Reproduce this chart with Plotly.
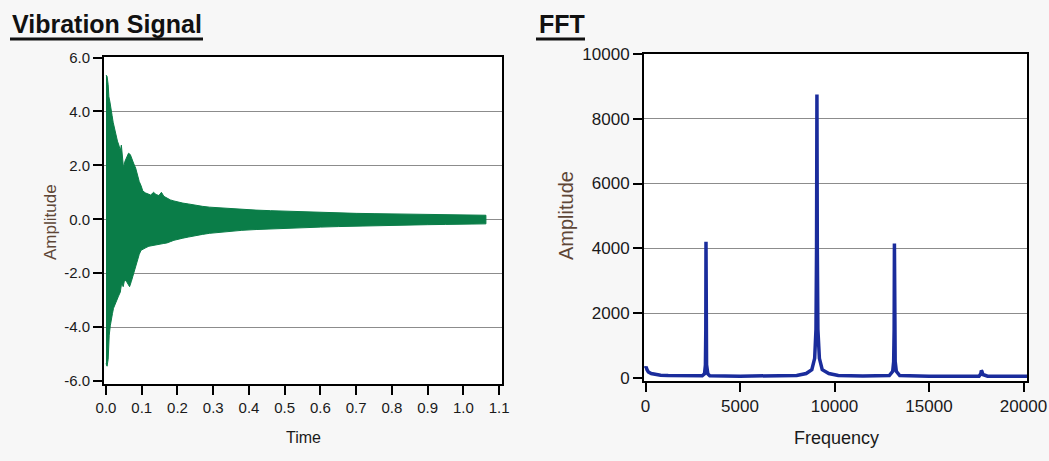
import plotly.graph_objects as go

# ---- vibration signal envelope (time in s, amplitude) ----
t_upper = [0.000, 0.003, 0.006, 0.008, 0.011, 0.014, 0.017, 0.020, 0.024, 0.028,
           0.032, 0.036, 0.040, 0.043, 0.046, 0.049, 0.053, 0.058, 0.063, 0.068,
           0.073, 0.078, 0.083, 0.088, 0.093, 0.098, 0.103, 0.110, 0.118, 0.125,
           0.133, 0.140, 0.148, 0.155, 0.162, 0.170, 0.180, 0.190, 0.200, 0.215,
           0.230, 0.250, 0.270, 0.290, 0.320, 0.350, 0.380, 0.420, 0.460, 0.500,
           0.550, 0.600, 0.650, 0.700, 0.750, 0.800, 0.850, 0.900, 0.950, 1.000,
           1.040, 1.063]
amp_upper = [5.35, 5.30, 5.00, 4.55, 4.35, 4.00, 3.85, 3.60, 3.35, 3.20,
             2.90, 2.75, 2.55, 2.75, 2.30, 1.90, 2.15, 2.30, 2.45, 2.40,
             2.20, 2.05, 1.90, 1.60, 1.40, 1.25, 1.05, 0.98, 0.95, 0.90,
             1.00, 0.92, 0.88, 1.00, 0.85, 0.78, 0.72, 0.68, 0.64, 0.60,
             0.57, 0.52, 0.48, 0.45, 0.42, 0.39, 0.37, 0.34, 0.32, 0.30,
             0.28, 0.26, 0.24, 0.22, 0.21, 0.20, 0.19, 0.18, 0.17, 0.16,
             0.15, 0.15]
t_lower = [0.000, 0.003, 0.006, 0.009, 0.012, 0.015, 0.018, 0.021, 0.025, 0.030,
           0.035, 0.040, 0.044, 0.048, 0.052, 0.057, 0.062, 0.066, 0.071, 0.077,
           0.083, 0.088, 0.093, 0.098, 0.105, 0.112, 0.120, 0.130, 0.140, 0.150,
           0.160, 0.170, 0.180, 0.190, 0.200, 0.215, 0.230, 0.250, 0.270, 0.290,
           0.320, 0.350, 0.380, 0.420, 0.460, 0.500, 0.550, 0.600, 0.650, 0.700,
           0.750, 0.800, 0.850, 0.900, 0.950, 1.000, 1.040, 1.063]
amp_lower = [-5.35, -5.45, -5.20, -4.30, -3.95, -3.70, -3.50, -3.30, -3.15, -3.00,
             -2.85, -2.70, -2.35, -2.50, -2.25, -2.30, -2.40, -2.50, -2.30, -2.05,
             -1.75, -1.55, -1.30, -1.15, -1.10, -1.05, -1.00, -0.98, -0.95, -0.92,
             -0.90, -0.88, -0.83, -0.78, -0.74, -0.70, -0.66, -0.60, -0.56, -0.52,
             -0.47, -0.44, -0.41, -0.38, -0.35, -0.33, -0.31, -0.29, -0.27, -0.25,
             -0.23, -0.22, -0.21, -0.20, -0.19, -0.18, -0.17, -0.17]

# ---- FFT magnitude spectrum (Hz, amplitude) ----
freq = [0, 30, 80, 150, 300, 500, 800, 1200, 2000, 3000,
        3120, 3170, 3190, 3200, 3210, 3230, 3300, 3400, 5000, 7000,
        8000, 8500, 8800, 8950, 9020, 9050, 9070, 9090, 9120, 9200,
        9350, 9700, 10200, 11500, 12900, 13080, 13130, 13155, 13170, 13185,
        13210, 13270, 13450, 15000, 17650, 17740, 17770, 17800, 17850, 17950,
        18000, 18100, 20185]
magnitude = [300, 340, 250, 180, 130, 100, 80, 70, 60, 60,
             120, 400, 1500, 4200, 1500, 400, 120, 60, 50, 55,
             70, 130, 250, 600, 1500, 4000, 8750, 4000, 1500, 600,
             250, 130, 70, 55, 70, 200, 500, 1500, 4150, 1500,
             500, 200, 70, 50, 50, 120, 220, 200, 100, 90,
             60, 50, 45]

# ---- tick labels ----
time_ticks = [0.0, 0.1, 0.2, 0.3, 0.4, 0.5, 0.6, 0.7, 0.8, 0.9, 1.0, 1.1]
time_labels = ["0.0", "0.1", "0.2", "0.3", "0.4", "0.5", "0.6", "0.7", "0.8", "0.9", "1.0", "1.1"]
sig_ticks = [-6, -4, -2, 0, 2, 4, 6]
sig_labels = ["-6.0", "-4.0", "-2.0", "0.0", "2.0", "4.0", "6.0"]
freq_ticks = [0, 5000, 10000, 15000, 20000]
freq_labels = ["0", "5000", "10000", "15000", "20000"]
mag_ticks = [0, 2000, 4000, 6000, 8000, 10000]
mag_labels = ["0", "2000", "4000", "6000", "8000", "10000"]

W, H = 1049, 461
GREEN = "#0a7d48"
BLUE = "#1a2c9c"
GRID = "#8c8c8c"
SANS = "Liberation Sans, Arial, sans-serif"


def px(x):
    return x / W


def py(y):
    return 1 - y / H


fig = go.Figure()
fig.add_trace(go.Scatter(
    x=t_upper + t_lower[::-1], y=amp_upper + amp_lower[::-1],
    mode="lines", fill="toself", fillcolor=GREEN,
    line=dict(color=GREEN, width=1), xaxis="x", yaxis="y", hoverinfo="skip"))
fig.add_trace(go.Scatter(
    x=freq, y=magnitude, mode="lines",
    line=dict(color=BLUE, width=3.5), xaxis="x2", yaxis="y2"))

common = dict(showline=True, linecolor="black", linewidth=2, mirror=True,
              ticks="outside", ticklen=9, tickwidth=2, tickcolor="black",
              zeroline=False, tickmode="array", automargin=False, showgrid=False)

fig.update_layout(
    width=W, height=H, margin=dict(l=0, r=0, t=0, b=0, autoexpand=False),
    paper_bgcolor="#f7f7f7", plot_bgcolor="white", showlegend=False,
    xaxis=dict(domain=[px(104), px(502)], range=[-0.0056, 1.108],
               tickvals=time_ticks, ticktext=time_labels,
               tickfont=dict(family=SANS, size=15, color="#1a1a1a"), anchor="y", **common),
    yaxis=dict(domain=[py(384), py(57)], range=[-6.11, 6.02],
               tickvals=sig_ticks, ticktext=sig_labels,
               minor=dict(tickvals=[-4, -2, 0, 2, 4], showgrid=True, gridcolor=GRID,
                          gridwidth=1, ticks=""),
               tickfont=dict(family=SANS, size=15, color="#1a1a1a"), anchor="x", **common),
    xaxis2=dict(domain=[px(644), px(1027)], range=[-80, 20185],
                tickvals=freq_ticks, ticktext=freq_labels,
                tickfont=dict(family=SANS, size=17, color="#1a1a1a"), anchor="y2", **common),
    yaxis2=dict(domain=[py(381), py(54)], range=[-100, 10000],
                tickvals=mag_ticks, ticktext=mag_labels,
                minor=dict(tickvals=[2000, 4000, 6000, 8000], showgrid=True, gridcolor=GRID,
                           gridwidth=1, ticks=""),
                tickfont=dict(family=SANS, size=17, color="#1a1a1a"), anchor="x2", **common),
)

annotations = [
    dict(text="<b>Vibration Signal</b>", x=px(10), y=py(24), xanchor="left", yanchor="middle",
         font=dict(family=SANS, size=25, color="#111")),
    dict(text="<b>FFT</b>", x=px(537), y=py(24), xanchor="left", yanchor="middle",
         font=dict(family=SANS, size=25, color="#111")),
    dict(text="Time", x=px(303), y=py(437), xanchor="center", yanchor="middle",
         font=dict(family=SANS, size=16, color="#1a1a1a")),
    dict(text="Frequency", x=px(836), y=py(438), xanchor="center", yanchor="middle",
         font=dict(family=SANS, size=18, color="#1a1a1a")),
    dict(text="Amplitude", x=px(50), y=py(222), xanchor="center", yanchor="middle",
         textangle=-90, font=dict(family=SANS, size=17, color="#5e4636")),
    dict(text="Amplitude", x=px(566), y=py(216), xanchor="center", yanchor="middle",
         textangle=-90, font=dict(family=SANS, size=20, color="#5e4636")),
]
for a in annotations:
    a.update(xref="paper", yref="paper", showarrow=False)
fig.update_layout(annotations=annotations)

# underlines beneath the two panel headings
for x0, x1 in [(10, 203), (536, 585)]:
    fig.add_shape(type="line", xref="paper", yref="paper",
                  x0=px(x0), x1=px(x1), y0=py(39), y1=py(39),
                  line=dict(color="#111", width=3))

fig.write_html("out.html")
